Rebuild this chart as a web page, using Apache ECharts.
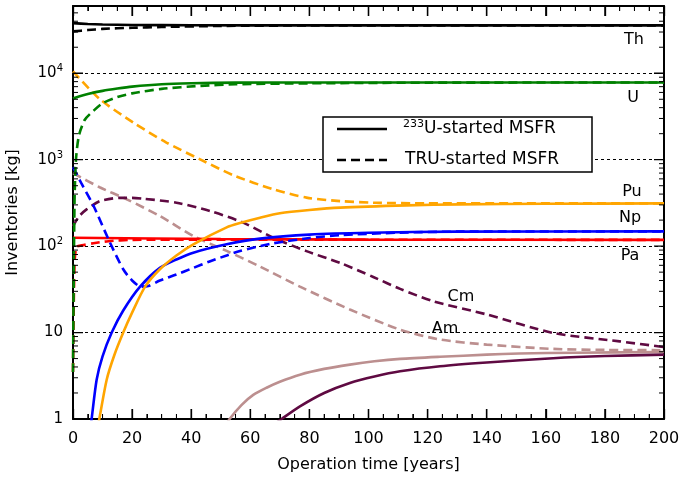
<!DOCTYPE html>
<html><head><meta charset="utf-8">
<script src="https://cdn.jsdelivr.net/npm/echarts@6/dist/echarts.min.js"></script>
<style>html,body{margin:0;padding:0;background:#fff}#c{width:680px;height:477px}</style>
</head><body><div id="c"></div>
<script>
// ---- data: [time (years), inventory (kg)] ----
const thSolid = [[0,38000],[5,37200],[10,36700],[20,36200],[40,35900],[80,35800],[200,35800]];
const thDashed = [[0,30500],[5,31600],[10,32600],[20,33600],[30,34300],[50,35300],[80,35700],[120,35800],[200,35800]];
const uSolid = [[0,5100],[2,5400],[5,5750],[10,6250],[15,6650],[20,7000],[30,7450],[40,7650],[55,7800],[80,7820],[200,7820]];
const uDashed = [[0,3.5],[0.5,300],[1,1000],[2,1900],[4,2900],[7,3700],[10,4500],[15,5300],[20,5850],[30,6600],[43,7150],[55,7450],[80,7650],[120,7780],[200,7820]];
const puSolid = [[7,0.45],[8.9,1],[11.4,2.85],[14,5.5],[17,10],[20,17],[24.4,34],[29.4,54],[35,78],[40.7,105],[52,165],[56.5,185],[63.3,213],[70,240],[80,262],[90.4,279],[113,296],[131,304],[160,309],[200,312]];
const puDashed = [[0,10500],[9.1,5010],[20.4,2690],[31.6,1580],[43,1010],[54.3,660],[67.8,454],[79,364],[90.4,332],[101.6,318],[120,313],[150,312],[200,312]];
const npSolid = [[5,0.45],[6.3,1],[8,2.85],[10,5.3],[13.1,10],[17,18],[22.7,34],[29.4,56],[35,70],[40.7,84],[52,105],[63.3,122],[80,136],[100,143],[130,147],[200,148]];
const npDashed = [[0,820],[3,520],[6.9,295],[12.5,110],[17,54],[20,40],[23,34],[25.5,34.5],[29.4,40],[35,47],[40.7,56],[46,66],[52,78],[56.5,88],[63.3,100],[67.8,108],[80,124],[90.4,134],[110,143],[130,147],[200,148]];
const paSolid = [[0,125],[50,121],[100,119],[200,118]];
const paDashed = [[0,3.5],[0.5,60],[1.2,98],[3,102],[6.9,108],[12,114],[20,118],[40,119],[200,118]];
const amSolid = [[50,0.7],[53,1],[57,1.45],[61,1.9],[65.5,2.3],[70,2.7],[76.8,3.26],[85,3.8],[93.7,4.26],[102,4.65],[110.7,4.96],[124.2,5.25],[140,5.55],[151,5.72],[170,5.85],[200,5.95]];
const amDashed = [[0,700],[9,480],[18.2,348],[29.4,223],[40.7,131],[52,88],[63.3,58],[76.8,34],[93.7,18.5],[110.7,10.8],[124.2,8.3],[140,7.26],[162.5,6.47],[180,6.3],[200,6.25]];
const cmSolid = [[65,0.73],[70.6,1],[76.8,1.4],[85,2],[93.7,2.61],[102,3.1],[110.7,3.56],[124.2,4.07],[140,4.5],[162.5,5.05],[180,5.35],[200,5.56]];
const cmDashed = [[0,170],[2,220],[4.6,266],[9.1,332],[15.9,362],[20,362],[23.8,354],[35,318],[46.4,255],[57.6,187],[67.8,125],[79,87.5],[90.4,64],[101.6,44],[110.7,32],[122,23],[140,16.2],[162.5,9.9],[185,7.9],[200,6.8]];

const legendNames = ['233U-started MSFR', 'TRU-started MSFR'];
const curveLabels = [['Th',634,40],['U',633,98],['Pu',632,192],['Np',630,218],['Pa',630,256],['Cm',461,297],['Am',445,329]];
const xMin = 0, xMax = 200, xStep = 20, xMinorStep = 5;
const yMin = 1, yMax = 60000;
const yMajorTicks = [1, 10, 100, 1000, 10000];
// minor log ticks (2..9 per decade)
const yMinorTicks = [];
for (let d = 1; d <= 10000; d *= 10) for (let m = 2; m <= 9; m++) if (m*d <= yMax) yMinorTicks.push(m*d);

const FONT = 'DejaVu Sans';
const DASH = [9,5];
const C = {th:'#000000', u:'#008000', pu:'#FFA500', np:'#0000FF', pa:'#FF0000', am:'#BC8F8F', cm:'#5F0A42'};

function line(name, data, color, dashed) {
  return {type:'line', name:name, data:data, showSymbol:false, symbol:'none', smooth:0.25,
    clip:true, silent:true, lineStyle:{color:color, width:2.6, type: dashed ? DASH : 'solid'},
    itemStyle:{color:color}, z:3};
}

function yLabel(v) {
  const e = Math.round(Math.log10(v));
  if (Math.abs(Math.pow(10,e) - v) > 1e-6 * v) return '';
  if (e === 0) return '1';
  if (e === 1) return '10';
  return '10{sup|' + e + '}';
}
function axisLine() { return {show:true, onZero:false, lineStyle:{color:'#000', width:2}}; }
function xTick() { return {show:true, inside:true, length:10, lineStyle:{color:'#000', width:1.3}}; }
function xMinor() { return {show:true, splitNumber:4, length:5, lineStyle:{color:'#000', width:1}}; }

const chart = echarts.init(document.getElementById('c'), null, {renderer:'canvas'});

const option = {
  animation:false,
  backgroundColor:'#fff',
  grid:{left:73, right:16, top:6, bottom:58, containLabel:false, outerBoundsMode:'none'},
  xAxis:[
    {type:'value', min:xMin, max:xMax, interval:xStep, position:'bottom',
     name:'Operation time [years]', nameLocation:'middle', nameGap:38,
     nameTextStyle:{fontFamily:FONT, fontSize:16, color:'#000'},
     axisLine:axisLine(), axisTick:xTick(), minorTick:xMinor(),
     axisLabel:{fontFamily:FONT, fontSize:16, color:'#000', margin:12},
     splitLine:{show:false}, minorSplitLine:{show:false}},
    {type:'value', min:xMin, max:xMax, interval:xStep, position:'top',
     axisLine:axisLine(), axisTick:xTick(), minorTick:xMinor(),
     axisLabel:{show:false}, splitLine:{show:false}, minorSplitLine:{show:false}}
  ],
  yAxis:[
    {type:'log', logBase:10, min:yMin, max:yMax, position:'left',
     name:'Inventories [kg]', nameLocation:'middle', nameGap:52,
     nameTextStyle:{fontFamily:FONT, fontSize:16, color:'#000'},
     axisLine:axisLine(), axisTick:{show:false},
     axisLabel:{fontFamily:FONT, fontSize:15, color:'#000', margin:10, formatter:yLabel,
       rich:{sup:{fontFamily:FONT, fontSize:10, padding:[0,0,9,0], color:'#000'}}},
     splitLine:{show:true, lineStyle:{color:'#000', width:1, type:[3,3]}}},
    {type:'log', logBase:10, min:yMin, max:yMax, position:'right',
     axisLine:axisLine(), axisTick:{show:false},
     axisLabel:{show:false}, splitLine:{show:false}}
  ],
  series:[
    line('Am TRU', amDashed, C.am, true),
    line('Am 233U', amSolid, C.am, false),
    line('Cm TRU', cmDashed, C.cm, true),
    line('Cm 233U', cmSolid, C.cm, false),
    line('Pa TRU', paDashed, C.pa, true),
    line('Pa 233U', paSolid, C.pa, false),
    line('Np TRU', npDashed, C.np, true),
    line('Np 233U', npSolid, C.np, false),
    line('Pu TRU', puDashed, C.pu, true),
    line('Pu 233U', puSolid, C.pu, false),
    line('U TRU', uDashed, C.u, true),
    line('U 233U', uSolid, C.u, false),
    line('Th TRU', thDashed, C.th, true),
    line('Th 233U', thSolid, C.th, false)
  ]
};
chart.setOption(option);

// inward tick marks, drawn as short line segments in data space (pixel lengths converted through the axes)
const xl = chart.convertToPixel({xAxisIndex:0}, xMin);
const xr = chart.convertToPixel({xAxisIndex:0}, xMax);
const yb = chart.convertToPixel({yAxisIndex:0}, yMin);
const yt = chart.convertToPixel({yAxisIndex:0}, yMax);
const decadesPerPx = (Math.log10(yMax) - Math.log10(yMin)) / (yb - yt);
function dx(px) { return px * (xMax - xMin) / (xr - xl); }
function yUp(px) { return yMin * Math.pow(10, px * decadesPerPx); }
function yDown(px) { return yMax / Math.pow(10, px * decadesPerPx); }
const majorSeg = [], minorSeg = [];
function push(arr, a, b) { arr.push(a, b, null); }
yMinorTicks.forEach(function(v){ push(minorSeg, [xMin, v], [xMin + dx(5), v]); push(minorSeg, [xMax - dx(5), v], [xMax, v]); });
yMajorTicks.forEach(function(v){ push(majorSeg, [xMin, v], [xMin + dx(10), v]); push(majorSeg, [xMax - dx(10), v], [xMax, v]); });
for (let t = xMin; t <= xMax; t += xMinorStep) {
  const major = (t % xStep === 0);
  const arr = major ? majorSeg : minorSeg;
  const len = major ? 10 : 5;
  push(arr, [t, yMin], [t, yUp(len)]);
  push(arr, [t, yMax], [t, yDown(len)]);
}
function tickSeries(name, data, w) {
  return {type:'line', name:name, data:data, symbol:'none', showSymbol:false, smooth:false, connectNulls:false,
    clip:false, silent:true, z:8, lineStyle:{color:'#000', width:w}, itemStyle:{color:'#000'}};
}
option.series.push(tickSeries('ticksMajor', majorSeg, 1.3));
option.series.push(tickSeries('ticksMinor', minorSeg, 1));

const G = [];
curveLabels.forEach(function(l){
  G.push({type:'text', x:l[1], y:l[2], style:{text:l[0], fontFamily:FONT, fontSize:16, fill:'#000', align:'center', verticalAlign:'middle'}});
});
// legend box (line samples + rich text)
G.push({type:'group', x:323, y:117, children:[
  {type:'rect', shape:{x:0, y:0, width:269, height:55}, style:{fill:'#fff', stroke:'#000', lineWidth:1.5}},
  {type:'line', shape:{x1:14, y1:12, x2:64, y2:12}, style:{stroke:'#000', lineWidth:2.6}},
  {type:'line', shape:{x1:14, y1:43, x2:64, y2:43}, style:{stroke:'#000', lineWidth:2.6, lineDash:DASH}},
  {type:'text', x:80, y:12, style:{text:'{sup|233}{n|' + legendNames[0].slice(3) + '}', align:'left', verticalAlign:'middle',
     rich:{sup:{fontFamily:FONT, fontSize:11, padding:[0,0,9,0], fill:'#000'}, n:{fontFamily:FONT, fontSize:17, fill:'#000'}}}},
  {type:'text', x:82, y:43, style:{text:legendNames[1], fontFamily:FONT, fontSize:17, fill:'#000', align:'left', verticalAlign:'middle'}}
]});
option.graphic = G;
chart.setOption(option);
</script>
</body></html>
